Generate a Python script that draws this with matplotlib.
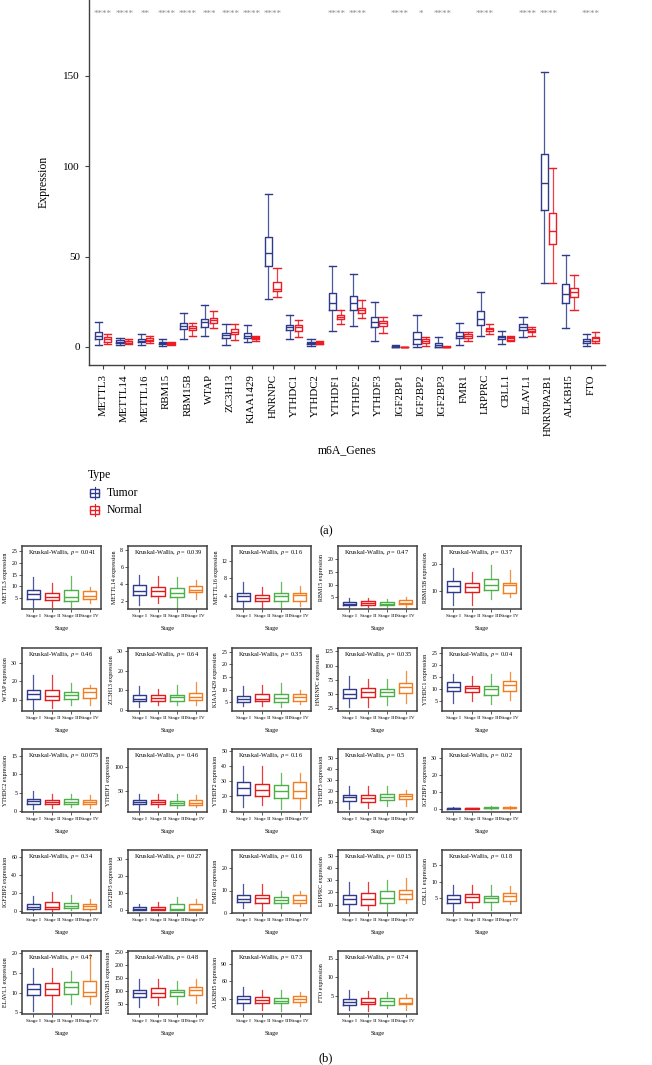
import matplotlib
matplotlib.use("Agg")
import matplotlib.pyplot as plt
from matplotlib.patches import Rectangle
from matplotlib.lines import Line2D

plt.rcParams['font.family'] = ['Liberation Serif', 'DejaVu Serif']
plt.rcParams['mathtext.fontset'] = 'stix'

# --- DATA: panel (a) ---
genes = ["METTL3", "METTL14", "METTL16", "RBM15", "RBM15B", "WTAP", "ZC3H13",
         "KIAA1429", "HNRNPC", "YTHDC1", "YTHDC2", "YTHDF1", "YTHDF2", "YTHDF3",
         "IGF2BP1", "IGF2BP2", "IGF2BP3", "FMR1", "LRPPRC", "CBLL1", "ELAVL1",
         "HNRNPA2B1", "ALKBH5", "FTO"]

# (whisker low, q1, median, q3, whisker high)
tumor_stats = [
    (1.1, 4.3, 6.3, 8.5, 14.0), (0.9, 2.0, 2.9, 3.7, 4.8), (0.9, 2.6, 3.5, 4.6, 7.0),
    (0.7, 1.7, 2.4, 2.9, 4.4), (4.4, 9.7, 11.3, 13.1, 18.6), (5.9, 10.9, 13.7, 15.5, 23.4),
    (1.1, 4.8, 6.5, 7.6, 12.6), (2.6, 5.0, 6.3, 7.6, 12.2), (26.6, 44.9, 51.9, 60.7, 84.5),
    (4.6, 9.4, 10.9, 12.0, 17.4), (0.4, 1.7, 2.4, 2.9, 4.6), (8.9, 20.5, 24.5, 30.1, 44.5),
    (11.3, 20.5, 24.2, 28.2, 40.4), (3.5, 10.9, 13.8, 16.8, 24.7), (0.0, 0.05, 0.2, 0.6, 1.0),
    (0.0, 1.5, 4.4, 8.0, 17.4), (0.0, 0.2, 0.9, 2.0, 5.4), (1.1, 5.0, 6.3, 8.0, 13.1),
    (5.9, 12.0, 15.5, 19.6, 30.4), (1.5, 4.2, 5.4, 6.3, 9.0), (5.4, 9.6, 11.1, 12.6, 16.8),
    (35.6, 75.9, 90.8, 106.7, 151.9), (10.3, 24.2, 29.3, 34.9, 50.6), (0.7, 2.4, 3.5, 4.4, 7.0),
]
normal_stats = [
    (1.8, 2.9, 4.4, 5.4, 7.0), (1.7, 2.4, 3.1, 3.5, 4.4), (2.0, 3.1, 4.0, 4.8, 5.9),
    (1.1, 1.7, 2.0, 2.4, 2.9), (6.3, 9.4, 10.7, 11.8, 13.1), (10.5, 13.1, 15.0, 16.1, 19.9),
    (3.9, 7.2, 8.5, 9.8, 12.6), (3.5, 4.2, 5.2, 5.7, 6.3), (27.5, 30.8, 32.2, 36.0, 43.6),
    (5.4, 8.9, 10.9, 12.2, 15.0), (1.5, 1.8, 2.4, 2.8, 3.3), (12.6, 15.5, 16.6, 17.7, 20.5),
    (16.2, 18.6, 20.5, 21.4, 25.8), (7.6, 11.6, 13.1, 14.4, 16.8), (0.0, 0.0, 0.05, 0.1, 0.2),
    (0.7, 2.0, 3.3, 4.4, 5.7), (0.0, 0.05, 0.1, 0.2, 0.4), (3.3, 4.8, 5.9, 7.0, 8.5),
    (7.2, 8.9, 9.8, 10.7, 12.6), (3.3, 4.0, 4.8, 5.4, 6.1), (6.3, 8.0, 8.9, 9.8, 10.9),
    (35.3, 56.9, 63.9, 74.0, 98.7), (20.5, 27.5, 30.3, 32.8, 39.9), (2.4, 3.5, 5.0, 5.7, 8.1),
]
sig_labels = ["****", "****", "**", "****", "****", "***", "****", "****", "****",
              "", "", "****", "****", "", "****", "*", "****", "", "****", "",
              "****", "****", "", "****"]

# --- DATA: panel (b) ---
stage_names = ["Stage I", "Stage II", "Stage III", "Stage IV"]
stage_pvals = ["0.041", "0.039", "0.16", "0.47", "0.37",
               "0.46", "0.64", "0.35", "0.035", "0.04",
               "0.0075", "0.46", "0.16", "0.5", "0.02",
               "0.34", "0.027", "0.16", "0.015", "0.18",
               "0.47", "0.48", "0.73", "0.74"]
stage_yticks = [[5, 10, 15, 20, 25], [2, 4, 6, 8], [4, 8, 12], [5, 10, 15, 20], [10, 20],
                [10, 20, 30], [0, 10, 20, 30], [5, 10, 15, 20, 25], [25, 50, 75, 100, 125], [5, 10, 15, 20, 25],
                [0, 5, 10, 15], [50, 100], [10, 20, 30, 40, 50], [10, 20, 30, 40, 50], [0, 10, 20, 30],
                [0, 20, 40, 60], [0, 10, 20, 30], [0, 10, 20], [10, 20, 30, 40, 50], [5, 10, 15],
                [5, 10, 15, 20], [50, 100, 150, 200, 250], [30, 60, 90], [5, 10, 15]]
stage_ylims = [(0.5, 27), (1, 8.5), (1, 15.4), (0.5, 25), (3, 27),
               (4, 38), (-0.5, 31.5), (1.5, 26.5), (20, 131), (1, 27),
               (-0.3, 17), (6, 139), (9.5, 51), (0.5, 58), (-2, 35),
               (-2.5, 68), (-1.5, 35.5), (0, 28), (3, 55), (0.5, 19.5),
               (4.6, 20.5), (10, 252), (5.5, 111), (0.2, 17)]

stage1_stats = [
    (1.5, 4.6, 6.6, 8.5, 14.0), (1.5, 2.7, 3.2, 3.8, 5.1), (1.5, 2.9, 4.0, 4.7, 7.1),
    (1.3, 2.2, 2.6, 3.4, 4.6), (4.4, 9.5, 11.7, 13.6, 18.7),
    (5.3, 10.3, 13.1, 15.6, 23.6), (1.5, 4.8, 5.8, 7.4, 12.0), (3.3, 5.0, 6.2, 7.5, 11.5),
    (27, 43, 50, 59, 82), (4.4, 9.3, 10.9, 12.8, 16.3),
    (0.4, 1.9, 2.8, 3.4, 5.5), (11, 22, 27, 32, 45), (13, 21, 25, 29, 40),
    (3.5, 10.5, 14, 16, 24), (0.0, 0.02, 0.08, 0.3, 0.8),
    (0.4, 1.8, 4.6, 7.4, 16), (0.0, 0.1, 0.6, 1.8, 4.0), (2.1, 4.9, 6.3, 8.0, 13.0),
    (5, 10.5, 14.5, 18, 29), (1.2, 3.5, 4.7, 5.9, 8.8),
    (5.4, 9.3, 11.0, 12.2, 16.3), (35, 75, 91, 104, 144), (12, 24, 30, 36, 50),
    (1.4, 2.7, 3.5, 4.3, 6.7),
]
stage2_stats = [
    (1.5, 4.2, 5.5, 7.4, 11.3), (1.7, 2.6, 3.1, 3.6, 4.9), (1.0, 2.8, 3.6, 4.3, 6.0),
    (1.4, 2.2, 2.7, 3.5, 4.8), (4.6, 9.5, 11.3, 12.9, 17.2),
    (5.8, 10.0, 12.0, 15.6, 23.2), (2.5, 4.8, 6.2, 7.4, 10.8), (3.3, 5.4, 6.3, 8.4, 11.7),
    (27, 45, 53, 61, 77), (5.0, 8.7, 10.3, 11.5, 15.6),
    (0.8, 1.8, 2.4, 3.0, 4.7), (16, 22, 27, 32, 45), (14, 20, 24, 28, 39.5),
    (4, 10, 13.5, 16, 24), (0.0, 0.02, 0.06, 0.2, 0.5),
    (0.0, 1.8, 4.6, 9.5, 21.4), (0.0, 0.2, 0.8, 2.0, 5.2), (1.0, 4.6, 6.6, 8.0, 12.7),
    (5.5, 10, 14.5, 19.5, 29), (2.1, 3.9, 5.2, 6.3, 8.8),
    (5.2, 9.5, 10.8, 12.4, 16.3), (44, 75, 91, 110, 144), (12, 24, 29, 34, 46),
    (1.0, 2.8, 3.5, 4.5, 6.4),
]
stage3_stats = [
    (1.5, 4.0, 5.6, 8.4, 14.3), (1.1, 2.4, 2.9, 3.5, 4.8), (1.5, 2.8, 4.0, 4.7, 7.1),
    (1.3, 2.0, 2.5, 3.1, 4.2), (7.0, 10.3, 12.3, 14.5, 19.7),
    (7.0, 10.4, 12.7, 14.4, 19.0), (2.3, 4.8, 6.5, 7.7, 12.8), (2.9, 5.0, 6.6, 8.4, 12.7),
    (30, 46, 53, 58, 77), (3.7, 7.7, 10.0, 11.5, 16.3),
    (1.1, 1.9, 2.5, 3.2, 4.7), (14, 21, 25, 30, 43), (11.5, 19, 23.5, 27, 35.5),
    (6, 11, 14, 17, 24), (0.0, 0.15, 0.4, 1.0, 1.8),
    (0.4, 2.8, 5.6, 8.8, 17.9), (0.0, 0.3, 1.0, 3.5, 7.7), (2.4, 4.5, 5.6, 6.9, 10.0),
    (5, 11.5, 15.5, 21, 30), (1.5, 3.8, 4.9, 5.7, 8.8),
    (7.1, 9.7, 11.5, 12.6, 15.5), (47, 79, 94, 104, 138), (11, 24, 28, 33, 45),
    (1.7, 2.7, 3.7, 4.5, 6.2),
]
stage4_stats = [
    (3.0, 4.6, 6.1, 8.0, 9.6), (2.2, 3.0, 3.3, 3.7, 4.5), (1.7, 2.9, 4.1, 4.7, 6.3),
    (1.4, 2.3, 2.9, 4.0, 5.2), (7.5, 9.1, 12.0, 13.0, 17.7),
    (7.5, 11.2, 14.1, 16.6, 17.8), (2.3, 5.1, 6.8, 8.6, 14.0), (4.1, 5.6, 7.2, 8.2, 10.0),
    (34, 52, 63, 70, 91), (5.6, 9.3, 11.9, 13.2, 17.2),
    (0.9, 1.8, 2.4, 2.9, 4.3), (16, 21, 25, 31, 41), (11.5, 19, 23.5, 29, 35),
    (6, 12, 15.5, 17, 21), (0.0, 0.1, 0.3, 0.7, 1.4),
    (0.4, 2.5, 4.9, 7.4, 13.3), (0.0, 0.3, 1.0, 3.8, 6.8), (3.2, 4.5, 6.0, 8.0, 9.8),
    (11, 14.5, 19, 22, 32), (3.1, 4.2, 5.7, 6.6, 8.7),
    (7.1, 9.1, 10.1, 13.0, 19.7), (52, 82, 101, 115, 145), (19, 26, 31, 36, 42),
    (1.2, 2.8, 3.2, 4.5, 5.6),
]

# --- STYLE ---
W, H = 652, 1065
COLOR_TUMOR = "#2E3A8C"
COLOR_NORMAL = "#EE1C25"
STAGE_COLORS = ["#2E3A8C", "#E41A1C", "#4DAF4A", "#F47D20"]
FRAME = "#404040"


def fig_rect(left, top, width, height):
    """pixel box (top-left origin) -> figure fraction rect"""
    return [left / W, 1 - (top + height) / H, width / W, height / H]


def to_stats(rows):
    return [dict(whislo=r[0], q1=r[1], med=r[2], q3=r[3], whishi=r[4]) for r in rows]


def draw_boxes(ax, rows, pos, color, width, lw, caps=True):
    ax.bxp(to_stats(rows), positions=pos, widths=width, showfliers=False,
           showcaps=caps, capwidths=width,
           boxprops=dict(color=color, lw=lw),
           medianprops=dict(color=color, lw=lw),
           whiskerprops=dict(color=color, lw=lw * 0.9, alpha=0.85),
           capprops=dict(color=color, lw=lw),
           manage_ticks=False)


fig = plt.figure(figsize=(W / 100, H / 100), dpi=100)

# ---------------- panel (a) ----------------
ax = fig.add_axes(fig_rect(89, -2, 516, 367))
x = list(range(len(genes)))
draw_boxes(ax, tumor_stats, [i - 0.2 for i in x], COLOR_TUMOR, 0.34, 1.0)
draw_boxes(ax, normal_stats, [i + 0.2 for i in x], COLOR_NORMAL, 0.34, 1.0)
for i, s in enumerate(sig_labels):
    if s:
        ax.text(i, 184, s, ha='center', va='center', color='#8a8a8a', fontsize=6.5)

ax.set_xlim(-0.66, 23.66)
ax.set_ylim(-10, 193)
ax.set_yticks([0, 50, 100, 150])
ax.set_xticks(x)
ax.set_xticklabels(genes, rotation=90, fontsize=7.8)
ax.tick_params(axis='y', labelsize=8, length=3, width=0.8, color=FRAME)
ax.tick_params(axis='x', length=3, width=0.8, color=FRAME)
for side in ['top', 'right']:
    ax.spines[side].set_visible(False)
for side in ['left', 'bottom']:
    ax.spines[side].set_color(FRAME)
    ax.spines[side].set_linewidth(1.0)
ax.set_ylabel("Expression", fontsize=8.5, labelpad=10)
fig.text(347 / W, 1 - 450 / H, "m6A_Genes", ha='center', va='center', fontsize=8.5)

# legend
fig.text(88 / W, 1 - 475 / H, "Type", ha='left', va='center', fontsize=8.5)
for k, (lab, col) in enumerate([("Tumor", COLOR_TUMOR), ("Normal", COLOR_NORMAL)]):
    yc = 493 + 17 * k
    fig.patches.append(Rectangle((90 / W, 1 - (yc + 3.5) / H), 9 / W, 7 / H,
                                 transform=fig.transFigure, fill=False,
                                 edgecolor=col, lw=1.0))
    fig.lines.append(Line2D([90 / W, 99 / W], [1 - yc / H] * 2,
                            transform=fig.transFigure, color=col, lw=1.0))
    fig.lines.append(Line2D([94.5 / W] * 2, [1 - (yc - 6) / H, 1 - (yc + 6) / H],
                            transform=fig.transFigure, color=col, lw=0.8, zorder=0))
    fig.text(107 / W, 1 - yc / H, lab, ha='left', va='center', fontsize=8.5)

fig.text(326 / W, 1 - 531 / H, "(a)", ha='center', va='center', fontsize=9)

# ---------------- panel (b) ----------------
col_left = [22, 128, 232, 338, 442]
row_top = [546, 648, 749, 850, 951]
for g in range(len(genes)):
    r, c = divmod(g, 5)
    bx = fig.add_axes(fig_rect(col_left[c], row_top[r], 79, 63))
    for s, rows in enumerate([stage1_stats, stage2_stats, stage3_stats, stage4_stats]):
        draw_boxes(bx, [rows[g]], [s + 1], STAGE_COLORS[s], 0.72, 1.0, caps=False)
    bx.set_xlim(0.4, 4.6)
    bx.set_ylim(*stage_ylims[g])
    bx.set_yticks(stage_yticks[g])
    bx.set_xticks([1, 2, 3, 4])
    bx.set_xticklabels(stage_names, fontsize=3.8)
    bx.tick_params(axis='y', labelsize=4.2)
    bx.tick_params(length=2, width=0.6, pad=1.5, color=FRAME)
    for sp in bx.spines.values():
        sp.set_color(FRAME)
        sp.set_linewidth(1.1)
    bx.set_ylabel(f"{genes[g]} expression", fontsize=4.3, labelpad=2)
    bx.set_xlabel("Stage", fontsize=4.5, labelpad=6)
    bx.text(0.07, 0.9, f"Kruskal-Wallis, $p$ = {stage_pvals[g]}",
            transform=bx.transAxes, ha='left', va='center', fontsize=4.6)

fig.text(326 / W, 1 - 1058 / H, "(b)", ha='center', va='center', fontsize=9)

fig.savefig("out.png", dpi=100)
